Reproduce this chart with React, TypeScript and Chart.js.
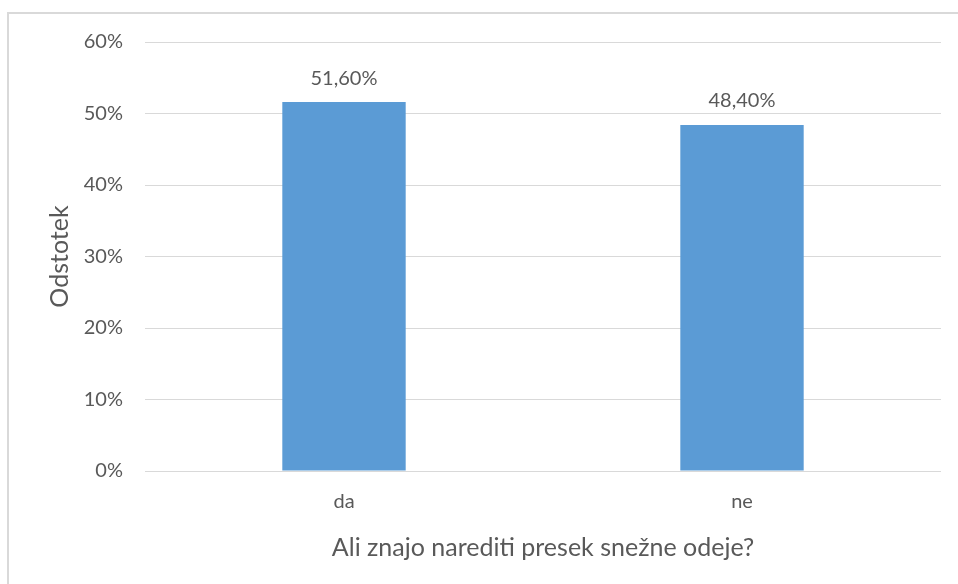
import React, { useEffect, useRef } from "react";
import { Chart, registerables } from "chart.js";

Chart.register(...registerables);

const categories = ["da", "ne"];
const percentValues = [51.6, 48.4];
const yTicks = [0, 10, 20, 30, 40, 50, 60];
const xTitle = "Ali znajo narediti presek snežne odeje?";
const yTitle = "Odstotek";

const FONT = "Lato, 'Liberation Sans', sans-serif";
const TEXT = "#595959";
const GRID = "#d9d9d9";
const BAR = "#5b9bd5";

// Writes each bar's percentage (decimal comma) above the bar
const valueLabels = {
  id: "valueLabels",
  afterDatasetsDraw(chart: any) {
    const ctx = chart.ctx;
    const meta = chart.getDatasetMeta(0);
    ctx.save();
    ctx.font = `20px ${FONT}`;
    ctx.fillStyle = TEXT;
    ctx.textAlign = "center";
    ctx.textBaseline = "middle";
    meta.data.forEach((bar: any, i: number) => {
      const v = percentValues[i];
      const txt = v.toFixed(2).replace(".", ",") + "%";
      ctx.fillText(txt, bar.x, bar.y - 24);
    });
    ctx.restore();
  },
};

export default function App() {
  const ref = useRef<HTMLCanvasElement>(null);

  useEffect(() => {
    if (!ref.current) return;
    const chart = new Chart(ref.current, {
      type: "bar",
      data: {
        labels: categories,
        datasets: [
          {
            data: percentValues,
            backgroundColor: BAR,
            barPercentage: 0.31,
            categoryPercentage: 1,
          },
        ],
      },
      options: {
        animation: false,
        responsive: false,
        maintainAspectRatio: false,
        layout: { padding: { left: 44, right: 17, top: 42, bottom: 21 } },
        plugins: {
          legend: { display: false },
          tooltip: { enabled: false },
        },
        scales: {
          x: {
            afterFit(scale: any) {
              scale.height = 92;
            },
            grid: { display: false, drawTicks: false },
            border: { display: false },
            ticks: {
              color: TEXT,
              font: { family: FONT, size: 20 },
              padding: 19,
            },
            title: {
              display: true,
              text: xTitle,
              color: TEXT,
              font: { family: FONT, size: 25 },
              padding: { top: 0, bottom: 0 },
            },
          },
          y: {
            min: 0,
            max: 60,
            afterBuildTicks(scale: any) {
              scale.ticks = yTicks.map((v) => ({ value: v }));
            },
            afterFit(scale: any) {
              scale.width = 101;
            },
            grid: { color: GRID, lineWidth: 1, drawTicks: false },
            border: { display: false },
            ticks: {
              color: TEXT,
              font: { family: FONT, size: 20 },
              padding: 22,
              callback: (v: any) => `${v}%`,
            },
            title: {
              display: true,
              text: yTitle,
              color: TEXT,
              font: { family: FONT, size: 25 },
              padding: { top: 1, bottom: 0 },
            },
          },
        },
      },
      plugins: [valueLabels],
    });
    return () => chart.destroy();
  }, []);

  return (
    <div
      style={{
        position: "fixed",
        left: 0,
        top: 0,
        width: 958,
        height: 584,
        overflow: "hidden",
        background: "#fff",
      }}
    >
      <div
        style={{
          position: "absolute",
          left: 7,
          top: 12,
          width: 1100,
          height: 800,
          border: `2px solid ${GRID}`,
        }}
      />
      <canvas
        ref={ref}
        width={958}
        height={584}
        style={{ position: "absolute", left: 0, top: 0 }}
      />
    </div>
  );
}
